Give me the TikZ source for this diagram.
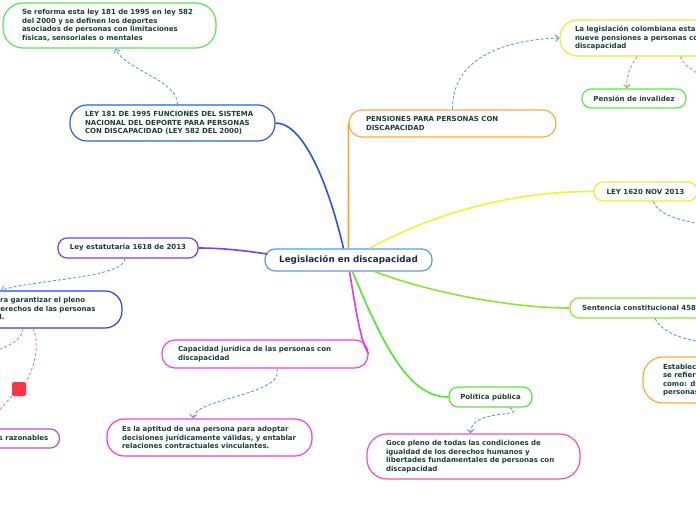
\documentclass[tikz,border=0pt]{standalone}
\usepackage{fontspec}
\setmainfont{DejaVu Sans}
\usetikzlibrary{arrows, arrows.meta, positioning, calc}
\usepackage{xcolor}

\definecolor{txtgreen}{HTML}{1D4034}
\definecolor{txtnavy}{HTML}{1C2B4F}
\definecolor{rootline}{HTML}{5B9BD8}
\definecolor{relblue}{HTML}{5A9BEA}
\definecolor{relred}{HTML}{FF7B7B}
\definecolor{sqred}{HTML}{FF3545}
\definecolor{cGreenA}{HTML}{5BE35F}
\definecolor{cBlue}{HTML}{2F5BEA}
\definecolor{cOrange}{HTML}{FFA93A}
\definecolor{cYellow}{HTML}{E6EE3A}
\definecolor{cGreenB}{HTML}{5CE84A}
\definecolor{cLime}{HTML}{8BE831}
\definecolor{cPurple}{HTML}{7A3DF0}
\definecolor{cBlueB}{HTML}{2B3FEE}
\definecolor{cViolet}{HTML}{B94BF0}
\definecolor{cMagenta}{HTML}{EE3FEE}
\definecolor{cGreenC}{HTML}{55E83A}
\definecolor{cPink}{HTML}{EE4FC8}
\definecolor{brBlue}{HTML}{2255EE}
\definecolor{brOrange}{HTML}{FFA126}
\definecolor{brYellow}{HTML}{F2F22E}
\definecolor{brLime}{HTML}{8BE831}
\definecolor{brMagenta}{HTML}{EE33EE}
\definecolor{brGreen}{HTML}{44EE22}

\newcommand{\smallfont}{\fontsize{7}{8.5}\selectfont\bfseries}
\newcommand{\rootfont}{\fontsize{8.8}{10}\selectfont\bfseries}

\tikzset{
  topic/.style={draw, line width=1.2pt, fill=white, rounded corners=#1, inner ysep=0pt,
    font=\smallfont, text=txtgreen, align=left},
  topic/.default=9pt,
  branch/.style={line width=1.6pt},
  relline/.style={draw=relblue, line width=0.9pt, dash pattern=on 3pt off 2pt, >=angle 90},
  redline/.style={draw=relred, line width=0.9pt, dash pattern=on 3pt off 2pt, >=angle 90},
}

\begin{document}
\begin{tikzpicture}[x=1pt, y=-1pt]
  \useasboundingbox (0,0) rectangle (696,520);
  \clip (0,0) rectangle (696,520);

  % central topic
  \node[draw=rootline, line width=1.2pt, fill=white, rounded corners=10pt, minimum width=167pt,
    minimum height=22pt, font=\rootfont, text=txtnavy] (root) at (348.5,260) {Legislación en discapacidad};

  % main topics
  \node[topic=17pt, draw=cBlue, minimum width=205pt, minimum height=36pt, text width=175pt, inner xsep=15pt]
    (ley181) at (172.5,123) {LEY 181 DE 1995 FUNCIONES DEL SISTEMA\\NACIONAL DEL DEPORTE PARA PERSONAS\\CON DISCAPACIDAD (LEY 582 DEL 2000)};
  \node[topic=13pt, draw=cOrange, minimum width=207pt, minimum height=27pt, text width=173pt, inner xsep=17pt]
    (pensiones) at (452.5,123.5) {PENSIONES PARA PERSONAS CON\\DISCAPACIDAD};
  \node[topic, draw=cYellow, minimum width=103pt, minimum height=19pt]
    (ley1620) at (645.5,191.5) {LEY 1620 NOV 2013};
  \node[topic, draw=cLime, minimum width=170pt, minimum height=20pt, text width=146pt, inner xsep=12pt]
    (sentencia) at (655,308) {Sentencia constitucional 458};
  \node[topic, draw=cPurple, minimum width=140pt, minimum height=20pt]
    (estatutaria) at (128,248) {Ley estatutaria 1618 de 2013};
  \node[topic=13pt, draw=cMagenta, minimum width=206pt, minimum height=28pt, text width=174pt, inner xsep=16pt]
    (capacidad) at (265,354) {Capacidad jurídica de las personas con\\discapacidad};
  \node[topic, draw=cGreenC, minimum width=83pt, minimum height=20pt]
    (politica) at (490.5,397) {Política pública};

  % subtopics
  \node[topic=20pt, draw=cGreenA, minimum width=213pt, minimum height=45pt, text width=175pt, inner xsep=19pt]
    (reforma) at (109.5,25.5) {Se reforma esta ley 181 de 1995 en ley 582\\del 2000 y se definen los deportes\\asociados de personas con limitaciones\\físicas, sensoriales o mentales};
  \node[topic=17pt, draw=cYellow, minimum width=200pt, minimum height=36pt, text width=170pt, inner xsep=15pt]
    (legiscol) at (660,38) {La legislación colombiana establece\\nueve pensiones a personas con\\discapacidad};
  \node[topic, draw=cGreenB, minimum width=104pt, minimum height=19pt]
    (invalidez) at (634,98.5) {Pensión de invalidez};
  \node[topic=20pt, draw=cOrange, minimum width=140pt, minimum height=46pt, text width=100pt, inner xsep=20pt]
    (establece) at (713,380) {Establece\\se refiere\\como: dis\\personas};
  \node[topic=17pt, draw=cBlueB, minimum width=208pt, minimum height=37pt, text width=168pt, inner xsep=20pt]
    (pleno) at (18,309.5) {Disposiciones para garantizar el pleno\\ejercicio de los derechos de las personas\\con discapacidad.};
  \node[topic, draw=cViolet, anchor=east, minimum height=19pt, inner xsep=11pt]
    (ajustes) at (60,438.5) {Ajustes razonables};
  \node[topic=17pt, draw=cMagenta, minimum width=205pt, minimum height=37pt, text width=175pt, inner xsep=15pt]
    (aptitud) at (209.5,437.5) {Es la aptitud de una persona para adoptar\\decisiones jurídicamente válidas, y entablar\\relaciones contractuales vinculantes.};
  \node[topic=20pt, draw=cPink, minimum width=213pt, minimum height=45pt, text width=175pt, inner xsep=19pt]
    (goce) at (473.5,456.5) {Goce pleno de todas las condiciones de\\igualdad de los derechos humanos y\\libertades fundamentales de personas con\\discapacidad};
  \node[fill=sqred, rounded corners=2pt, minimum size=14pt, inner sep=0pt] (sq) at (19,389) {};

  % free ends leaving the frame
  \coordinate (offA) at (700,75);
  \coordinate (offB) at (700,224);
  \coordinate (offC) at (700,342);
  \coordinate (offD) at (-4,351);
  \coordinate (offE) at (-4,414);

  % branches from the centre
  \draw[branch, draw=brBlue] ($(root.north)+(-5,0)$) .. controls (330,190) and (305,123) .. (ley181.east);
  \draw[branch, draw=brOrange] (root.north) -- (pensiones.west);
  \draw[branch, draw=brYellow] ($(root.north)+(21,0)$) .. controls (430,215) and (510,191) .. (ley1620.west);
  \draw[branch, draw=cPurple] ($(root.west)+(3,-6)$) .. controls (240,250) and (220,248) .. (estatutaria.east);
  \draw[branch, draw=brLime] ($(root.south)+(26,0)$) .. controls (440,296) and (520,308) .. (sentencia.west);
  \draw[branch, draw=brMagenta] ($(root.south)+(1,0)$) .. controls (356,310) and (360,340) .. (capacidad.east);
  \draw[branch, draw=brGreen] ($(root.south)+(4,0)$) .. controls (385,350) and (410,397) .. (politica.west);

  % relations
  \draw[relline, ->] ($(ley181.north)+(5,0)$) .. controls (178,80) and (125,70) .. ($(reforma.south)+(6,0)$);
  \draw[relline, ->] (pensiones.north) .. controls (452,60) and (500,40) .. (legiscol.west);
  \draw[redline, ->] ($(legiscol.south)+(-23,0)$) .. controls (630,68) and (626,75) .. ($(invalidez.north)+(-7,0)$);
  \draw[redline] ($(legiscol.south)+(20,0)$) .. controls (685,65) .. (offA);
  \draw[relline] ($(ley1620.south)+(8,0)$) .. controls (658,215) and (680,220) .. (offB);
  \draw[relline] (sentencia.south) .. controls (662,332) and (680,338) .. (offC);
  \draw[relline, ->] ($(estatutaria.south)+(-3,0)$) .. controls (125,278) and (30,280) .. ($(pleno.north)+(-17,0)$);
  \draw[redline] ($(pleno.south)+(5,0)$) .. controls (22,340) and (10,345) .. (offD);
  \draw[redline] ($(pleno.south)+(15,0)$) .. controls (40,345) and (35,365) .. (sq.north east);
  \draw[redline] (sq.south west) -- (offE);
  \draw[relline, ->] ($(capacidad.south)+(12,0)$) .. controls (285,395) and (195,398) .. ($(aptitud.north)+(-16.5,0)$);
  \draw[relline, ->] ($(politica.south)+(19,0)$) .. controls (530,418) and (470,408) .. ($(goce.north)+(-3,0)$);
\end{tikzpicture}
\end{document}
